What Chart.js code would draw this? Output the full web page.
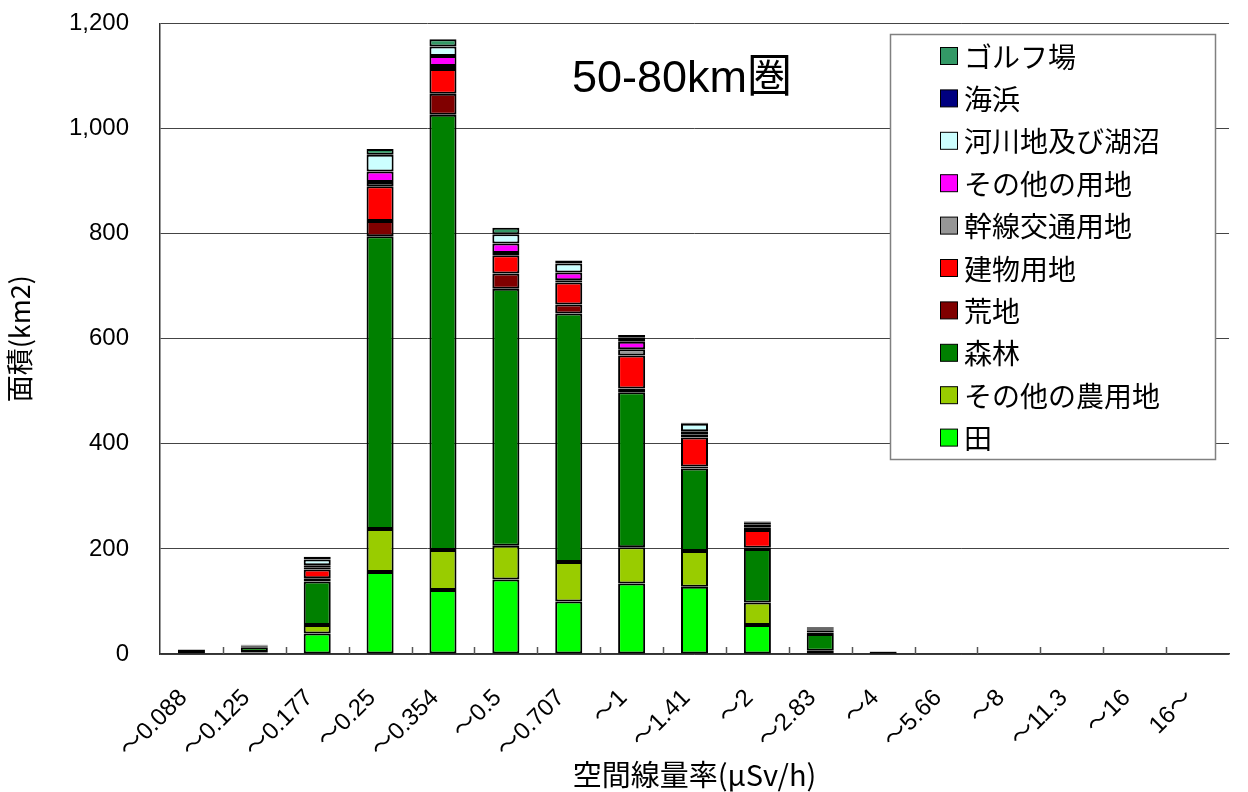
<!DOCTYPE html>
<html>
<head>
<meta charset="utf-8">
<script src="https://cdn.jsdelivr.net/npm/chart.js@4.4.0/dist/chart.umd.min.js"></script>
<style>
html,body{margin:0;padding:0;background:#fff;}
#wrap{width:1248px;height:792px;}
</style>
</head>
<body>
<div id="wrap"><canvas id="c" width="1248" height="792"></canvas></div>
<script>
const categories = ['〜0.088','〜0.125','〜0.177','〜0.25','〜0.354','〜0.5','〜0.707','〜1','〜1.41','〜2','〜2.83','〜4','〜5.66','〜8','〜11.3','〜16','16〜'];
const yTicks = [0,200,400,600,800,1000,1200];

const ta        = [1, 3, 39, 156, 122, 142, 100, 134, 128, 55, 2, 0.5, 0, 0, 0, 0, 0];
const otherFarm = [0.5, 1, 16, 82, 76, 64, 75, 69, 68, 43, 4, 0.3, 0, 0, 0, 0, 0];
const forest    = [6, 9, 83, 557, 828, 489, 473, 295, 157, 102, 32, 3, 0, 0, 0, 0, 0];
const wasteland = [0.5, 1, 6, 29, 40, 29, 17, 7, 4, 2, 3, 0.3, 0, 0, 0, 0, 0];
const building  = [0.5, 2, 17, 66, 47, 35, 42, 63, 55, 34, 3, 0.5, 0, 0, 0, 0, 0];
const traffic   = [0.2, 0.3, 3, 8, 6, 4, 4, 12, 6, 5, 1, 0.1, 0, 0, 0, 0, 0];
const otherUse  = [0.3, 0.5, 5, 20, 19, 18, 15, 14, 6, 5, 2, 0.2, 0, 0, 0, 0, 0];
const river     = [0.3, 0.5, 11, 32, 18, 18, 17, 8, 14, 4, 2, 0.2, 0, 0, 0, 0, 0];
const beach     = [0, 0, 0, 0, 0, 0, 0, 0, 0, 0, 0, 0, 0, 0, 0, 0, 0];
const golf      = [0.2, 0.5, 5, 11, 14, 12, 6, 5, 2, 2, 2, 0.1, 0, 0, 0, 0, 0];

const seriesNames = ['田','その他の農用地','森林','荒地','建物用地','幹線交通用地','その他の用地','河川地及び湖沼','海浜','ゴルフ場'];
const seriesData = [ta, otherFarm, forest, wasteland, building, traffic, otherUse, river, beach, golf];
const seriesColors = ['#00FF00','#99CC00','#008000','#800000','#FF0000','#969696','#FF00FF','#CCFFFF','#000080','#339966'];

const NUMFONT = "'Liberation Sans', 'Noto Sans CJK JP', sans-serif";
const JPFONT = "'Noto Sans CJK JP', 'Liberation Sans', sans-serif";

const datasets = seriesNames.map((n,i)=>({
  label:n,
  data:seriesData[i],
  backgroundColor:seriesColors[i],
  borderColor:'#000',
  borderWidth:2,
  borderSkipped:false,
  categoryPercentage:1.0,
  barPercentage:0.43
}));

const overlay = {
  id:'overlay',
  afterDraw(chart){
    const ctx = chart.ctx;
    const ca = chart.chartArea;
    ctx.save();
    ctx.strokeStyle='#555';
    ctx.lineWidth=1.5;
    const n = categories.length;
    const w = (ca.right-ca.left)/n;
    for(let i=1;i<n;i++){
      const x = Math.round(ca.left + i*w)+0.5;
      ctx.beginPath();ctx.moveTo(x,ca.bottom);ctx.lineTo(x,ca.bottom-7);ctx.stroke();
    }
    ctx.fillStyle='#000';
    ctx.font = "45px " + NUMFONT;
    ctx.textAlign='center';
    ctx.textBaseline='middle';
    ctx.fillText('50-80km圏', 682, 80);
    ctx.fillStyle='#fff';
    ctx.fillRect(890.5,34.5,325,425);
    ctx.strokeStyle='#808080';
    ctx.lineWidth=1.5;
    ctx.strokeRect(890.5,34.5,325,425);
    ctx.font = "28px " + JPFONT;
    ctx.textAlign='left';
    const m = chart.data.datasets.length;
    for(let i=0;i<m;i++){
      const ds = chart.data.datasets[m-1-i];
      const cy = 56 + i*42.4;
      ctx.fillStyle = ds.backgroundColor;
      ctx.fillRect(940.5, cy-8.5, 17, 17);
      ctx.strokeStyle='#000';
      ctx.lineWidth=1;
      ctx.strokeRect(940.5, cy-8.5, 17, 17);
      ctx.fillStyle='#000';
      ctx.fillText(ds.label, 964, cy+1);
    }
    ctx.restore();
  }
};

new Chart(document.getElementById('c'),{
  type:'bar',
  data:{labels:categories, datasets},
  options:{
    responsive:false,
    animation:false,
    devicePixelRatio:1,
    layout:{padding:{top:0,right:2,left:0,bottom:0}},
    plugins:{legend:{display:false},tooltip:{enabled:false},title:{display:false}},
    scales:{
      x:{
        stacked:true,
        grid:{display:false,drawTicks:false},
        border:{display:true,color:'#333',width:1.5},
        ticks:{
          color:'#000',
          font:{family:NUMFONT,size:24},
          minRotation:45,maxRotation:45,
          padding:30,
          labelOffset:-8,
          autoSkip:false
        },
        title:{display:true,text:'空間線量率(μSv/h)',color:'#000',font:{family:JPFONT,size:29},padding:{top:0,bottom:0}},
        afterFit(s){s.height=138;}
      },
      y:{
        stacked:true,
        min:0,max:1200,
        afterBuildTicks(s){s.ticks = yTicks.map(v=>({value:v}));},
        ticks:{
          color:'#000',
          font:{family:NUMFONT,size:24},
          padding:9,
          callback:(v)=>v.toLocaleString('en-US')
        },
        grid:{color:'#444',lineWidth:1,drawTicks:true,tickLength:22,tickColor:'rgba(0,0,0,0)'},
        border:{display:true,color:'#333',width:1.5},
        title:{display:true,text:'面積(km2)',color:'#000',font:{family:JPFONT,size:27},padding:{top:4,bottom:0}},
        afterFit(s){s.width=160;}
      }
    }
  },
  plugins:[overlay]
});
</script>
</body>
</html>
